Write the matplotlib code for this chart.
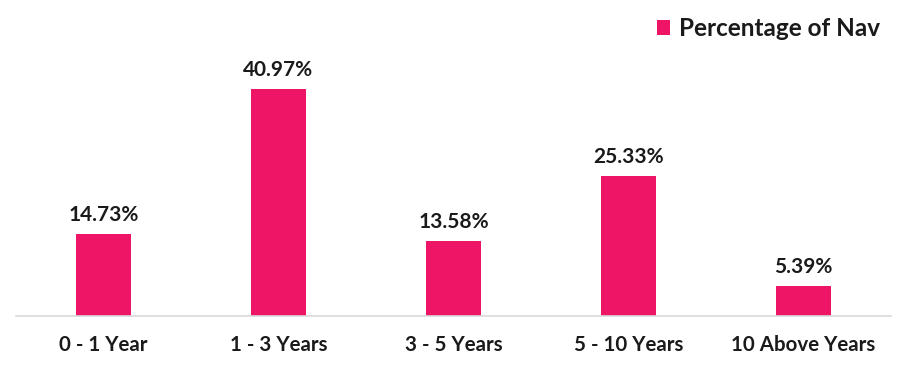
import matplotlib.pyplot as plt
from matplotlib.patches import Patch

categories = ['0 - 1 Year', '1 - 3 Years', '3 - 5 Years', '5 - 10 Years', '10 Above Years']
values = [14.73, 40.97, 13.58, 25.33, 5.39]
labels = ['14.73%', '40.97%', '13.58%', '25.33%', '5.39%']

pink = '#EE1566'
txt = '#1a1a1a'

plt.rcParams['font.family'] = ['Lato', 'DejaVu Sans']

fig = plt.figure(figsize=(9.1, 3.72), dpi=100)
ax = fig.add_axes([16/910, 56/372, 875/910, 316/372])

x = range(len(categories))
ax.bar(x, values, width=0.314, color=pink)

# value labels above bars
for i, v in enumerate(values):
    ax.text(i, v + 1.6, labels[i], ha='center', va='bottom',
            fontsize=15, fontweight='bold', color=txt)

ax.set_xlim(-0.5, len(categories) - 0.5)
ax.set_ylim(0, 57)
ax.set_xticks(list(x))
ax.set_xticklabels(categories, fontsize=14.8, fontweight='bold', color=txt)
ax.tick_params(axis='x', length=0, pad=14)
ax.set_yticks([])

for s in ['top', 'right', 'left']:
    ax.spines[s].set_visible(False)
ax.spines['bottom'].set_color('#d9d9d9')
ax.spines['bottom'].set_linewidth(1.2)

handle = Patch(facecolor=pink, label='Percentage of Nav')
leg = ax.legend(handles=[handle], loc='upper right', bbox_to_anchor=(1.012, 1.015),
                frameon=False, handlelength=0.55, handleheight=0.55,
                handletextpad=0.35, prop={'size': 17.5, 'weight': 'bold'})
for t in leg.get_texts():
    t.set_color(txt)

fig.savefig('out.png', dpi=100, facecolor='white')
